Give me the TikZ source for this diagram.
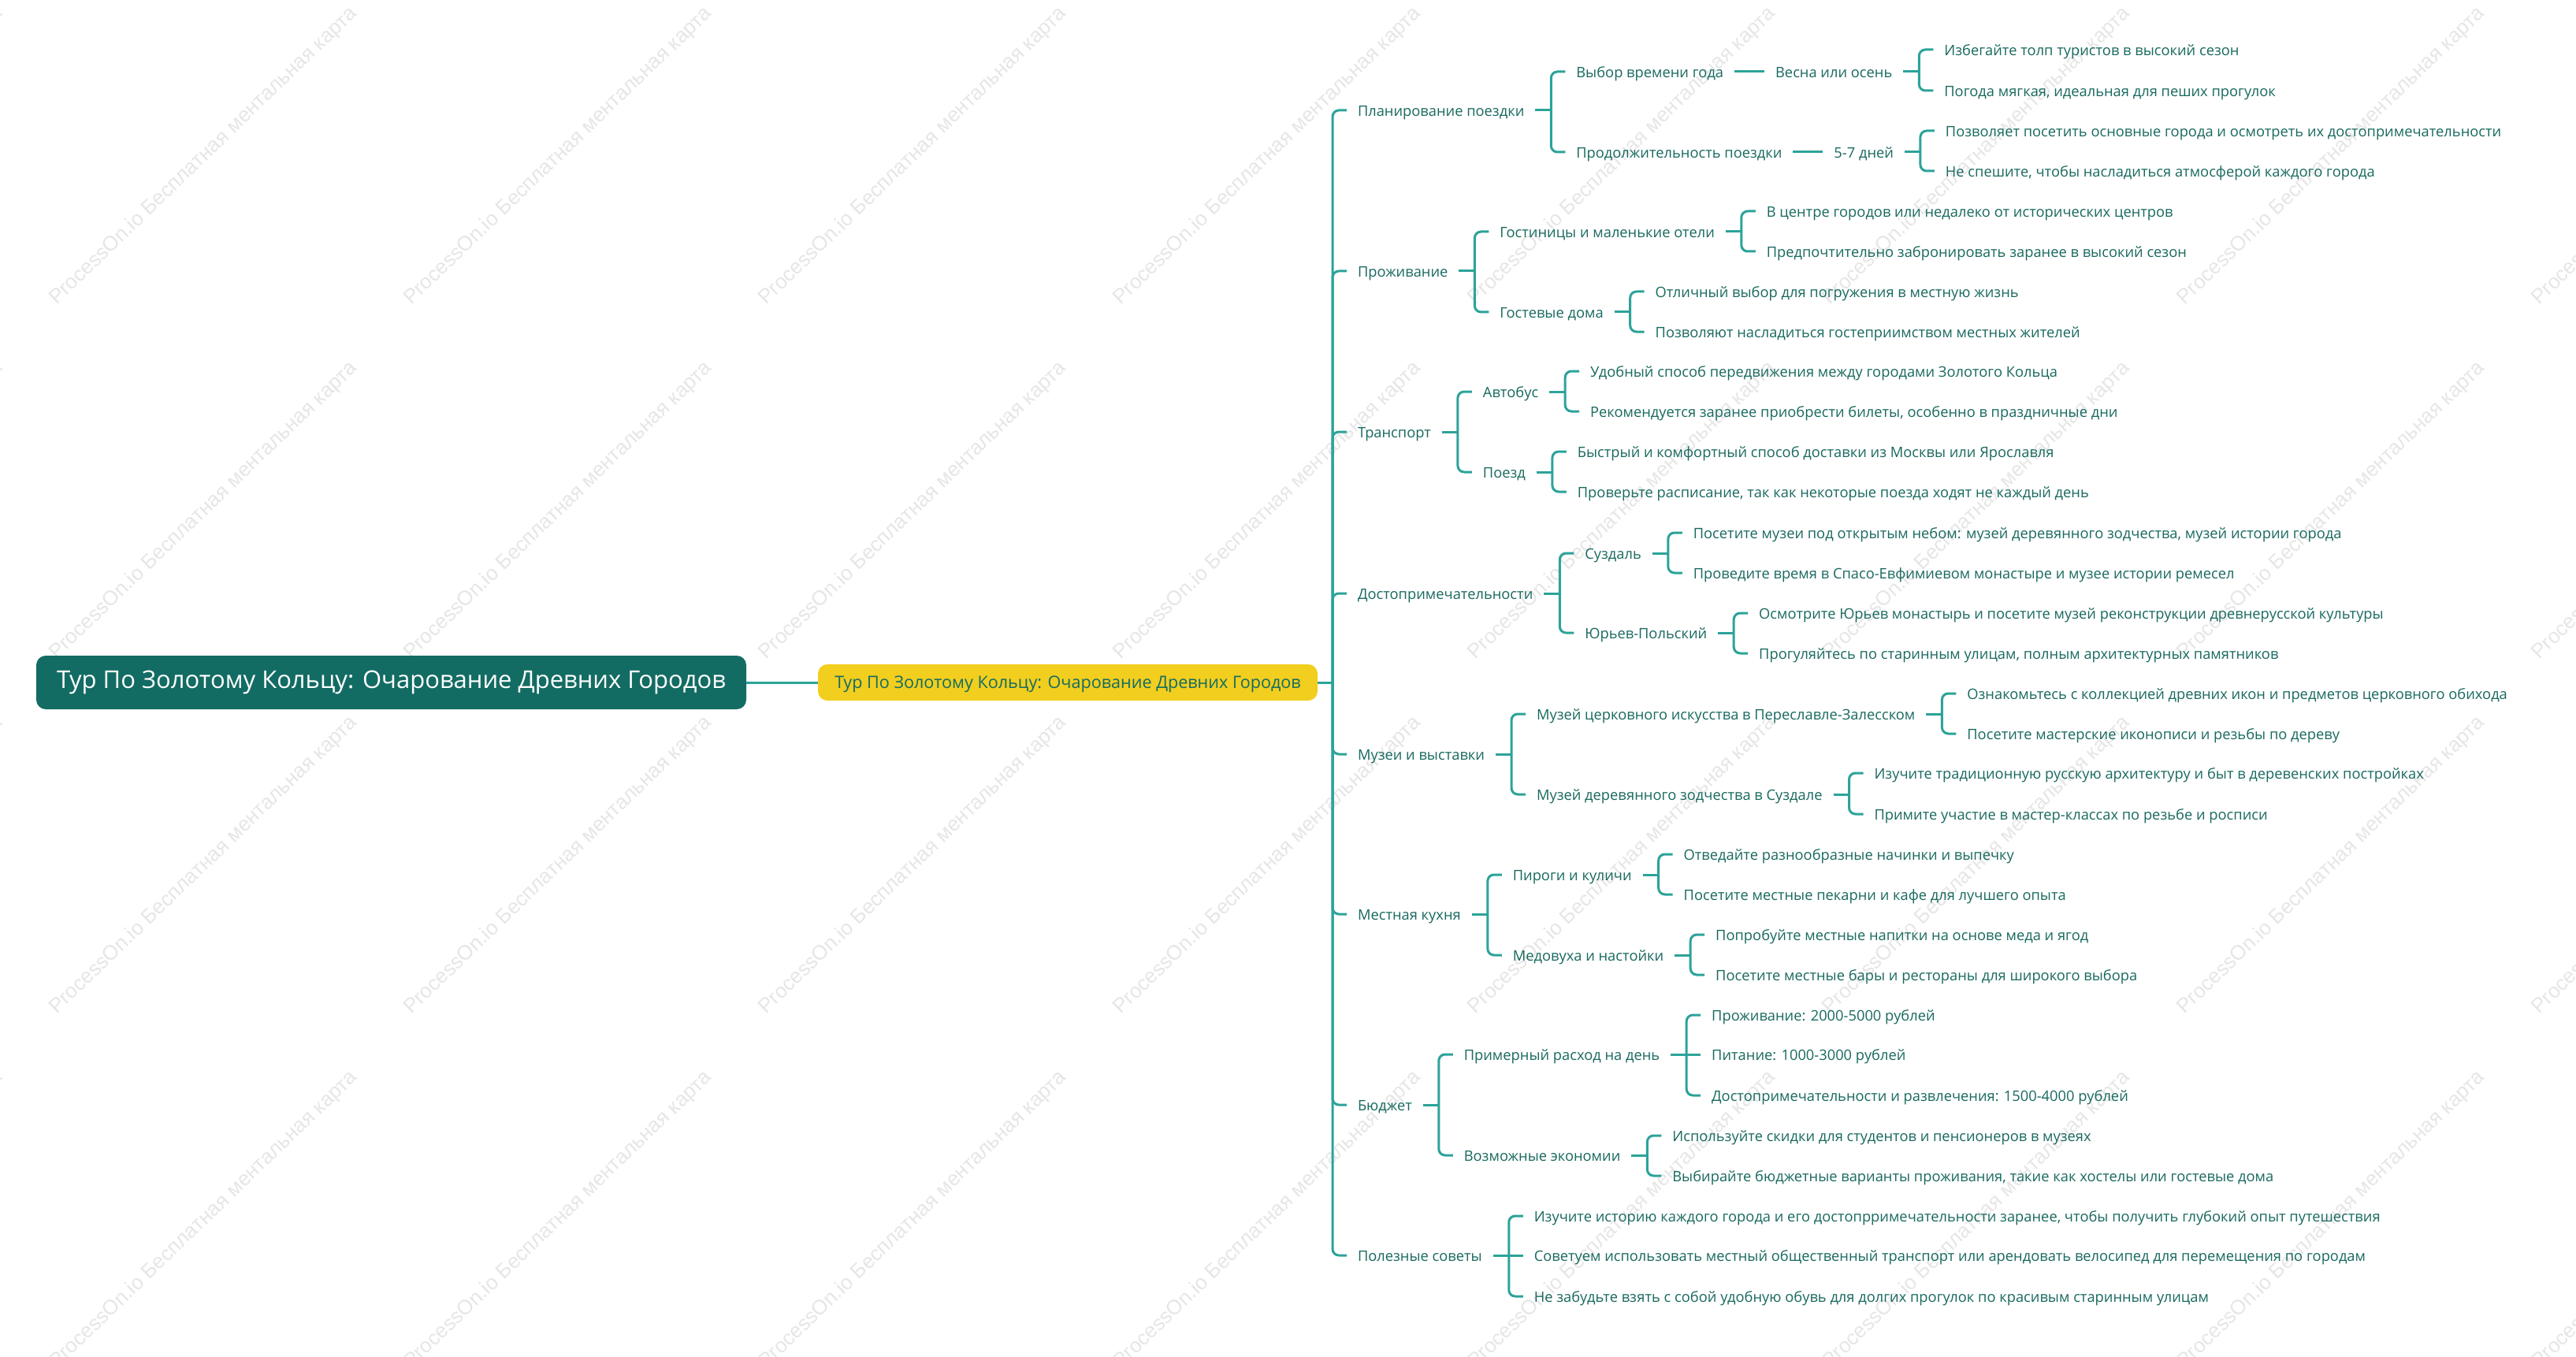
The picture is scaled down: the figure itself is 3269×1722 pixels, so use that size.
\documentclass[tikz,border=0pt]{standalone}
\usepackage{fontspec}
\setmainfont{Open Sans}
\newfontfamily\wmfont{Liberation Sans}
\usetikzlibrary{calc}
\definecolor{tx}{HTML}{18695F}
\definecolor{ln}{HTML}{2CA399}
\definecolor{rootc}{HTML}{136C63}
\definecolor{yel}{HTML}{F2CE1E}
\definecolor{wmc}{HTML}{E6E6E6}
\tikzset{
  lbl/.style={font=\fontsize{9.15}{11}\selectfont, text=tx, inner xsep=7pt, inner ysep=0pt,
    outer sep=0pt, text height=0.72em, text depth=0pt, anchor=west},
  conn/.style={draw=ln, line width=1.5pt},
  bracket/.style={conn, rounded corners=4pt},
  wm/.style={font=\wmfont\fontsize{13}{15}\selectfont, text=wmc, rotate=44,
    anchor=base west, inner sep=0pt},
}
% child at a different height than its parent: bracket with rounded corner
\newcommand\kid[4]{%
  \node[lbl,xshift=19pt] (#2) at (#1.east |- 0,#3) {#4};
  \draw[conn] (#1.east) -- ++(20,0);
  \draw[bracket] ($(#1.east)+(20,0)$) |- (#2.west);
}
% child at the same height as its parent: straight connector
\newcommand\kidS[3]{%
  \node[lbl,xshift=19pt] (#2) at (#1.east) {#3};
  \draw[conn] (#1.east) -- (#2.west);
}
\newcommand\lvlone[3]{%
  \node[lbl] (#1) at (1709,#2) {#3};
  \draw[bracket] (trunk) |- (#1.west);
}
\begin{document}
\begin{tikzpicture}[x=0.5pt,y=-0.5pt]
\useasboundingbox (0,0) rectangle (3269,1722);
\fill[white] (0,0) rectangle (3269,1722);
\begin{scope}
  \clip (0,0) rectangle (3269,1722);
  \foreach \i in {-1,...,7}{
    \foreach \j in {0,...,3}{
      \node[wm] at ({72+450*\i},{388+450*\j}) {ProcessOn.io Бесплатная ментальная карта};
    }
  }
\end{scope}

\node[fill=rootc, rounded corners=6pt, minimum width=450.5pt, minimum height=34pt,
  inner sep=0pt, text height=0.72em, text depth=0pt, text=white,
  font=\fontsize{15.5}{18}\selectfont] (root) at (496.5,866)
  {Тур По Золотому Кольцу: Очарование Древних Городов};
\node[fill=yel, rounded corners=6pt, minimum width=317pt, minimum height=23pt,
  inner sep=0pt, text height=0.72em, text depth=0pt, text=rootc,
  font=\fontsize{10.8}{13}\selectfont] (center) at (1355,866)
  {Тур По Золотому Кольцу: Очарование Древних Городов};
\draw[conn] (root.east) -- (center.west);
\coordinate (trunk) at (1691,866);
\draw[conn] (center.east) -- (trunk);

\lvlone{A}{140}{Планирование поездки}
\lvlone{B}{344}{Проживание}
\lvlone{C}{548}{Транспорт}
\lvlone{D}{753}{Достопримечательности}
\lvlone{E}{957}{Музеи и выставки}
\lvlone{F}{1160}{Местная кухня}
\lvlone{G}{1402}{Бюджет}
\lvlone{H}{1593}{Полезные советы}

\kid{A}{A1}{91}{Выбор времени года}
\kid{A}{A2}{193}{Продолжительность поездки}
\kidS{A1}{A1a}{Весна или осень}
\kid{A1a}{A1a1}{63}{Избегайте толп туристов в высокий сезон}
\kid{A1a}{A1a2}{115}{Погода мягкая, идеальная для пеших прогулок}
\kidS{A2}{A2a}{5-7 дней}
\kid{A2a}{A2a1}{166}{Позволяет посетить основные города и осмотреть их достопримечательности}
\kid{A2a}{A2a2}{217}{Не спешите, чтобы насладиться атмосферой каждого города}

\kid{B}{B1}{294}{Гостиницы и маленькие отели}
\kid{B1}{B1a}{268}{В центре городов или недалеко от исторических центров}
\kid{B1}{B1b}{319}{Предпочтительно забронировать заранее в высокий сезон}
\kid{B}{B2}{396}{Гостевые дома}
\kid{B2}{B2a}{370}{Отличный выбор для погружения в местную жизнь}
\kid{B2}{B2b}{421}{Позволяют насладиться гостеприимством местных жителей}

\kid{C}{C1}{497}{Автобус}
\kid{C1}{C1a}{471}{Удобный способ передвижения между городами Золотого Кольца}
\kid{C1}{C1b}{522}{Рекомендуется заранее приобрести билеты, особенно в праздничные дни}
\kid{C}{C2}{599}{Поезд}
\kid{C2}{C2a}{573}{Быстрый и комфортный способ доставки из Москвы или Ярославля}
\kid{C2}{C2b}{624}{Проверьте расписание, так как некоторые поезда ходят не каждый день}

\kid{D}{D1}{702}{Суздаль}
\kid{D1}{D1a}{676}{Посетите музеи под открытым небом: музей деревянного зодчества, музей истории города}
\kid{D1}{D1b}{727}{Проведите время в Спасо-Евфимиевом монастыре и музее истории ремесел}
\kid{D}{D2}{803}{Юрьев-Польский}
\kid{D2}{D2a}{778}{Осмотрите Юрьев монастырь и посетите музей реконструкции древнерусской культуры}
\kid{D2}{D2b}{829}{Прогуляйтесь по старинным улицам, полным архитектурных памятников}

\kid{E}{E1}{906}{Музей церковного искусства в Переславле-Залесском}
\kid{E1}{E1a}{880}{Ознакомьтесь с коллекцией древних икон и предметов церковного обихода}
\kid{E1}{E1b}{931}{Посетите мастерские иконописи и резьбы по дереву}
\kid{E}{E2}{1008}{Музей деревянного зодчества в Суздале}
\kid{E2}{E2a}{981}{Изучите традиционную русскую архитектуру и быт в деревенских постройках}
\kid{E2}{E2b}{1033}{Примите участие в мастер-классах по резьбе и росписи}

\kid{F}{F1}{1110}{Пироги и куличи}
\kid{F1}{F1a}{1084}{Отведайте разнообразные начинки и выпечку}
\kid{F1}{F1b}{1135}{Посетите местные пекарни и кафе для лучшего опыта}
\kid{F}{F2}{1212}{Медовуха и настойки}
\kid{F2}{F2a}{1186}{Попробуйте местные напитки на основе меда и ягод}
\kid{F2}{F2b}{1237}{Посетите местные бары и рестораны для широкого выбора}

\kid{G}{G1}{1338}{Примерный расход на день}
\kid{G1}{G1a}{1288}{Проживание: 2000-5000 рублей}
\draw[conn] (G1.east) -- ++(20,0);
\kidS{G1}{G1b}{Питание: 1000-3000 рублей}
\kid{G1}{G1c}{1390}{Достопримечательности и развлечения: 1500-4000 рублей}
\kid{G}{G2}{1466}{Возможные экономии}
\kid{G2}{G2a}{1441}{Используйте скидки для студентов и пенсионеров в музеях}
\kid{G2}{G2b}{1492}{Выбирайте бюджетные варианты проживания, такие как хостелы или гостевые дома}

\kid{H}{H1}{1543}{Изучите историю каждого города и его достопрримечательности заранее, чтобы получить глубокий опыт путешествия}
\kidS{H}{H2}{Советуем использовать местный общественный транспорт или арендовать велосипед для перемещения по городам}
\kid{H}{H3}{1645}{Не забудьте взять с собой удобную обувь для долгих прогулок по красивым старинным улицам}
\end{tikzpicture}
\end{document}
